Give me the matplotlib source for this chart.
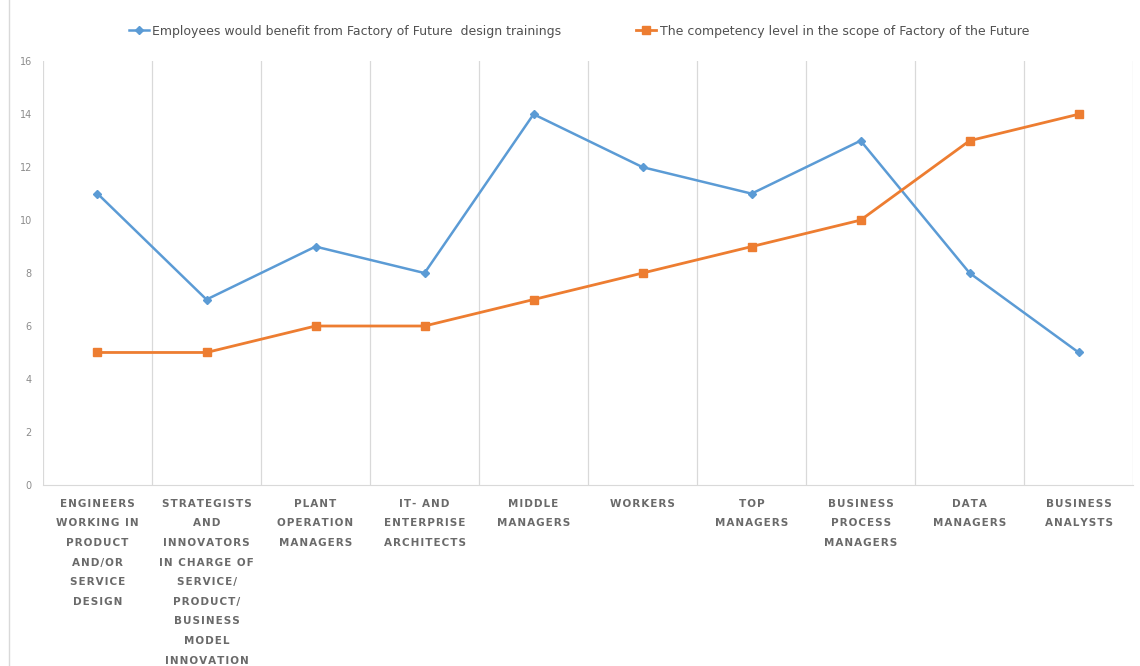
import matplotlib
matplotlib.use("Agg")
import matplotlib.pyplot as plt
from matplotlib.lines import Line2D

categories = [
    "ENGINEERS\nWORKING IN\nPRODUCT\nAND/OR\nSERVICE\nDESIGN",
    "STRATEGISTS\nAND\nINNOVATORS\nIN CHARGE OF\nSERVICE/\nPRODUCT/\nBUSINESS\nMODEL\nINNOVATION",
    "PLANT\nOPERATION\nMANAGERS",
    "IT- AND\nENTERPRISE\nARCHITECTS",
    "MIDDLE\nMANAGERS",
    "WORKERS",
    "TOP\nMANAGERS",
    "BUSINESS\nPROCESS\nMANAGERS",
    "DATA\nMANAGERS",
    "BUSINESS\nANALYSTS",
]
benefit = [11, 7, 9, 8, 14, 12, 11, 13, 8, 5]
competency = [5, 5, 6, 6, 7, 8, 9, 10, 13, 14]
yticks = [0, 2, 4, 6, 8, 10, 12, 14, 16]

blue = "#5B9BD5"
orange = "#ED7D31"


def spaced(s):
    # fake letter spacing with hair spaces
    return "\n".join("\u200a".join(line) for line in s.split("\n"))


fig = plt.figure(figsize=(11.4, 6.66), dpi=100)
ax = fig.add_axes([0.0377, 0.272, 0.9563, 0.636])

x = list(range(len(categories)))
ax.plot(x, benefit, color=blue, lw=1.8, marker="D", ms=4,
        label="Employees would benefit from Factory of Future  design trainings")
ax.plot(x, competency, color=orange, lw=2.0, marker="s", ms=6,
        label="The competency level in the scope of Factory of the Future")

ax.set_xlim(-0.5, len(categories) - 0.5)
ax.set_ylim(0, 16)
ax.set_yticks(yticks)
ax.set_yticklabels([str(v) for v in yticks], fontsize=7, color="#8c8c8c")
ax.set_xticks(x)
ax.set_xticklabels([spaced(c) for c in categories], fontsize=7.5, color="#6a6a6a",
                   fontweight="bold", linespacing=2.2, va="top")
ax.tick_params(axis="both", length=0)
ax.tick_params(axis="x", pad=10)
ax.tick_params(axis="y", pad=8)

# vertical separators between categories
for b in range(len(categories) + 1):
    ax.axvline(b - 0.5, color="#d9d9d9", lw=0.9, zorder=0)

for s in ["top", "right", "left"]:
    ax.spines[s].set_visible(False)
ax.spines["bottom"].set_color("#d9d9d9")

fig.legend(loc="upper center", bbox_to_anchor=(0.508, 0.98), ncol=2, frameon=False,
           fontsize=9, handlelength=1.6, handletextpad=0.3, columnspacing=6,
           labelcolor="#505050")

# outer left border line
fig.add_artist(Line2D([0.008, 0.008], [0, 1], color="#d9d9d9", lw=1))

fig.savefig("out.png", dpi=100)
